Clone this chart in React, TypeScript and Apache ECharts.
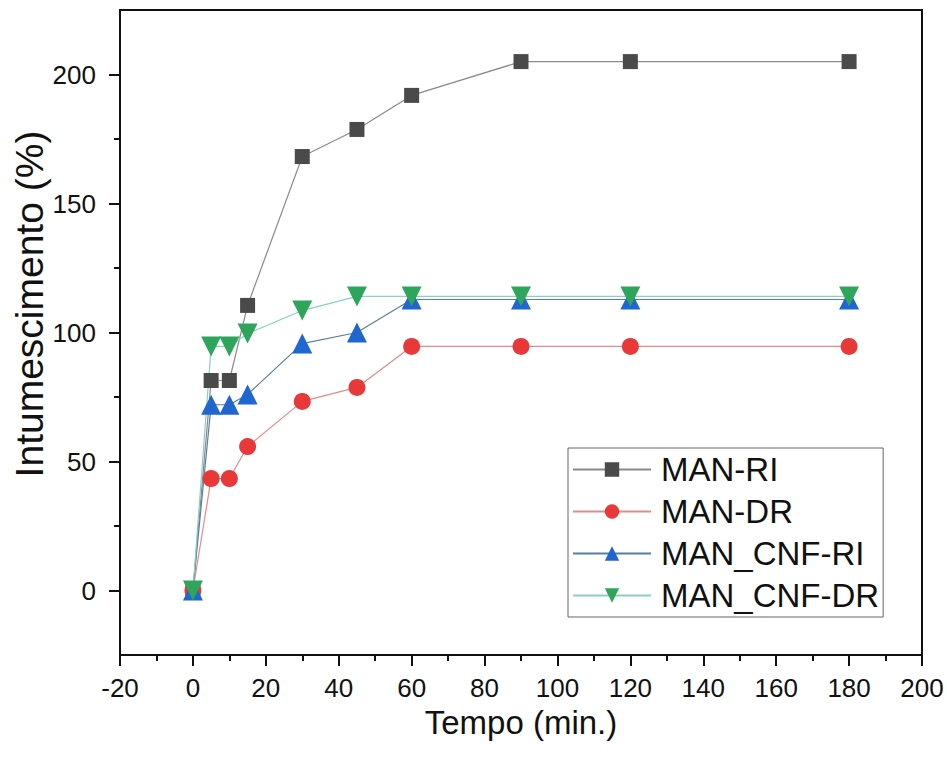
import React, { useEffect, useRef } from "react";
import * as echarts from "echarts";

const times = [0, 5, 10, 15, 30, 45, 60, 90, 120, 180];
const manRI = [0, 81.4, 81.4, 110.5, 168.2, 178.7, 191.9, 205, 205, 205];
const manDR = [0, 43.4, 43.4, 55.8, 73.3, 78.7, 94.6, 94.6, 94.6, 94.6];
const cnfRI = [0, 72, 72, 76, 95.7, 100, 112.8, 112.8, 112.8, 112.8];
const cnfDR = [0, 94.6, 94.6, 99.6, 108.5, 114, 114, 114, 114, 114];
const yMajorTicks = [0, 50, 100, 150, 200];
const yMinorTicks = [25, 75, 125, 175];

const FONT = "Liberation Sans, Arial, sans-serif";

export default function App() {
  const ref = useRef<HTMLDivElement>(null);
  useEffect(() => {
    if (!ref.current) return;
    const chart = echarts.init(ref.current, null, { renderer: "svg" });
    const mk = (name: string, data: number[], symbol: string, size: number, mColor: string, lColor: string, rotate = 0) => ({
      name,
      type: "line",
      data: times.map((t, i) => [t, data[i]]),
      symbol,
      symbolSize: size,
      symbolRotate: rotate,
      itemStyle: { color: mColor },
      lineStyle: { color: lColor, width: 1.2 },
      yAxisIndex: 0,
    });
    chart.setOption({
      animation: false,
      backgroundColor: "#fff",
      textStyle: { fontFamily: FONT },
      grid: {
        left: 120,
        right: 25,
        top: 10,
        bottom: 103,
        show: true,
        borderColor: "#111",
        borderWidth: 2,
      },
      graphic: [
        {
          type: "text",
          x: 29,
          y: 304,
          rotation: Math.PI / 2,
          style: {
            text: "Intumescimento (%)",
            fontSize: 39,
            fontFamily: FONT,
            fill: "#111",
            align: "center",
            verticalAlign: "middle",
          },
        },
      ],
      legend: {
        orient: "vertical",
        left: 568,
        top: 448,
        backgroundColor: "#fff",
        borderColor: "#666",
        borderWidth: 1,
        borderRadius: 0,
        padding: [5, 4, 5, 4],
        itemGap: 9,
        itemWidth: 78,
        itemHeight: 18,
        textStyle: { fontSize: 33, color: "#111", fontFamily: FONT, padding: [0, 0, 0, 5] },
      },
      xAxis: {
        type: "value",
        min: -20,
        max: 200,
        interval: 20,
        name: "Tempo (min.)",
        nameLocation: "middle",
        nameGap: 38,
        nameTextStyle: { fontSize: 33, color: "#111", fontFamily: FONT },
        axisLine: { show: true, onZero: false, lineStyle: { color: "#111", width: 2 } },
        axisTick: { show: true, length: 11, inside: false, lineStyle: { color: "#111", width: 2 } },
        minorTick: { show: true, splitNumber: 2, length: 6, lineStyle: { color: "#111", width: 2 } },
        axisLabel: { fontSize: 26, color: "#111", margin: 20, fontFamily: FONT },
        splitLine: { show: false },
      },
      yAxis: [
        {
          type: "value",
          min: -25,
          max: 225,
          axisLine: { show: true, onZero: false, lineStyle: { color: "#111", width: 2 } },
          axisTick: { show: true, length: 11, customValues: yMajorTicks, lineStyle: { color: "#111", width: 2 } },
          axisLabel: { fontSize: 26, color: "#111", margin: 24, customValues: yMajorTicks, fontFamily: FONT },
          splitLine: { show: false },
        },
        {
          type: "value",
          min: -25,
          max: 225,
          position: "left",
          axisLine: { show: false, onZero: false },
          axisTick: { show: true, length: 6, customValues: yMinorTicks, lineStyle: { color: "#111", width: 2 } },
          axisLabel: { show: false },
          splitLine: { show: false },
        },
      ],
      series: [
        mk("MAN-RI", manRI, "rect", 15, "#4a4a4a", "#8a8a8a"),
        mk("MAN-DR", manDR, "circle", 17, "#e83838", "#e58a8a"),
        mk("MAN_CNF-RI", cnfRI, "triangle", 20, "#1f66d1", "#5a7f9e"),
        mk("MAN_CNF-DR", cnfDR, "triangle", 20, "#2fa55c", "#8ccfc2", 180),
      ],
    });
    return () => chart.dispose();
  }, []);
  return <div ref={ref} style={{ position: "absolute", left: 0, top: 0, width: 947, height: 758 }} />;
}
